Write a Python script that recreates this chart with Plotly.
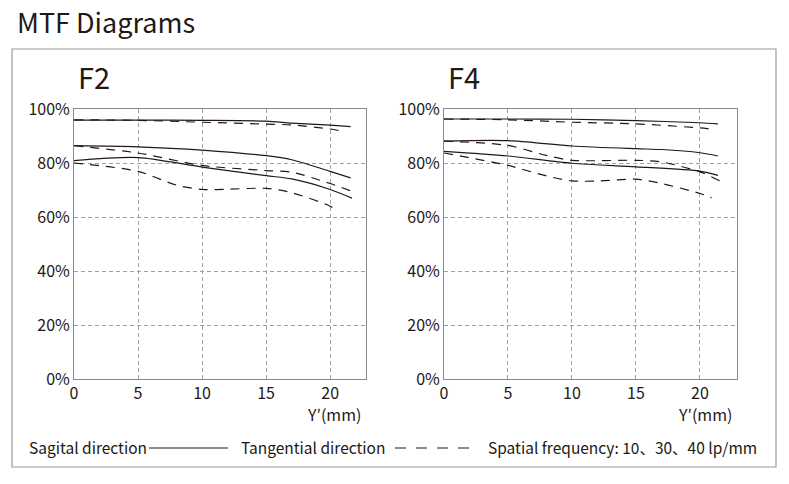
import plotly.graph_objects as go

# ---------------- data ----------------
f2_s10_x = [0, 5, 10, 15, 17, 20, 21.6]
f2_s10_y = [95.9, 95.9, 95.8, 95.5, 94.8, 94.0, 93.5]
f2_t10_x = [0, 5, 10, 15, 17, 20, 20.7]
f2_t10_y = [96.0, 95.8, 95.1, 94.4, 94.1, 92.6, 92.0]
f2_s30_x = [0, 5, 10, 15, 17, 20, 21.6]
f2_s30_y = [86.4, 86.0, 84.8, 82.7, 81.2, 76.9, 74.5]
f2_t30_x = [0, 5, 10, 15, 17, 20, 22]
f2_t30_y = [86.4, 83.7, 79.1, 77.2, 76.6, 72.4, 69.0]
f2_s40_x = [0, 5, 10, 15, 17, 20, 21.7]
f2_s40_y = [80.9, 82.0, 78.5, 75.3, 74.1, 70.2, 67.0]
f2_t40_x = [0, 5, 8, 10, 12, 15, 17, 20, 20.6]
f2_t40_y = [80.0, 76.9, 71.8, 70.2, 70.3, 70.6, 69.0, 64.0, 62.1]

f4_s10_x = [0, 5, 10, 15, 20, 21.4]
f4_s10_y = [96.3, 96.3, 96.2, 95.7, 94.9, 94.5]
f4_t10_x = [0, 5, 10, 15, 20, 20.8]
f4_t10_y = [96.3, 96.0, 95.1, 94.5, 93.0, 92.6]
f4_s30_x = [0, 5, 10, 15, 17, 20, 21.4]
f4_s30_y = [88.1, 88.3, 86.3, 85.3, 85.0, 83.8, 82.6]
f4_t30_x = [0, 5, 8, 10, 15, 17, 20, 21.6]
f4_t30_y = [88.1, 86.5, 82.8, 81.0, 81.0, 80.4, 76.7, 73.3]
f4_s40_x = [0, 5, 10, 15, 20, 21.4]
f4_s40_y = [84.3, 82.6, 79.9, 78.6, 77.0, 75.4]
f4_t40_x = [0, 5, 8, 10, 12, 15, 17, 20, 20.9]
f4_t40_y = [83.7, 79.1, 75.2, 73.4, 73.3, 74.0, 72.4, 68.7, 67.1]

x_ticks = [0, 5, 10, 15, 20]
x_tick_labels = ["0", "5", "10", "15", "20"]
y_ticks = [0, 20, 40, 60, 80, 100]
y_tick_labels = ["0%", "20%", "40%", "60%", "80%", "100%"]

panel_titles = ["F2", "F4"]
main_title = "MTF Diagrams"
x_title = "Y′(mm)"
legend_texts = ["Sagital direction", "Tangential direction", "Spatial frequency: 10、30、40 lp/mm"]

# ---------------- figure ----------------
W, H = 789, 484
FONT = "Noto Sans CJK JP"
INK = "#231815"
GRID = "#a0a0a0"
AX = "#8a8a8a"

fig = go.Figure()

panels = [
    ("x", "y", [(f2_s10_x, f2_s10_y, "solid"), (f2_t10_x, f2_t10_y, "dash"),
                (f2_s30_x, f2_s30_y, "solid"), (f2_t30_x, f2_t30_y, "dash"),
                (f2_s40_x, f2_s40_y, "solid"), (f2_t40_x, f2_t40_y, "dash")]),
    ("x2", "y2", [(f4_s10_x, f4_s10_y, "solid"), (f4_t10_x, f4_t10_y, "dash"),
                  (f4_s30_x, f4_s30_y, "solid"), (f4_t30_x, f4_t30_y, "dash"),
                  (f4_s40_x, f4_s40_y, "solid"), (f4_t40_x, f4_t40_y, "dash")]),
]
for xa, ya, series in panels:
    for xs, ys, d in series:
        fig.add_trace(go.Scatter(
            x=xs, y=ys, mode="lines", xaxis=xa, yaxis=ya, showlegend=False,
            line=dict(color=INK, width=1.2, shape="spline", smoothing=0.8,
                      dash="solid" if d == "solid" else "9px,7px"),
            hoverinfo="skip"))

y_dom = [1 - 379 / H, 1 - 109 / H]
x1_dom = [74 / W, 366 / W]
x2_dom = [444 / W, 736.7 / W]

axis_common = dict(showline=True, linecolor=AX, linewidth=1, mirror=True,
                   showgrid=True, gridcolor=GRID, griddash="4px,3px", gridwidth=1,
                   zeroline=False, ticks="", tickfont=dict(family=FONT, size=16, color=INK),
                   fixedrange=True, automargin=False)

fig.update_layout(
    width=W, height=H,
    margin=dict(l=0, r=0, t=0, b=0, autoexpand=False),
    paper_bgcolor="white", plot_bgcolor="white",
    xaxis=dict(domain=x1_dom, range=[0, 22.8], tickvals=x_ticks, ticktext=x_tick_labels,
               anchor="y", **axis_common),
    yaxis=dict(domain=y_dom, range=[0, 100], tickvals=y_ticks, ticktext=y_tick_labels,
               anchor="x", **axis_common),
    xaxis2=dict(domain=x2_dom, range=[0, 22.87], tickvals=x_ticks, ticktext=x_tick_labels,
                anchor="y2", **axis_common),
    yaxis2=dict(domain=y_dom, range=[0, 100], tickvals=y_ticks, ticktext=y_tick_labels,
                anchor="x2", **axis_common),
)

# outer frame
fig.add_shape(type="rect", xref="paper", yref="paper",
              x0=12 / W, x1=776 / W, y0=1 - 467 / H, y1=1 - 49 / H,
              line=dict(color="#9a9a9a", width=1.2), layer="below")

ann = []
ann.append(dict(text=main_title, x=15 / W, y=1 - 22 / H, xref="paper", yref="paper",
                xanchor="left", yanchor="middle", showarrow=False,
                font=dict(family=FONT, size=27, color=INK)))
for t, px in zip(panel_titles, [76, 446]):
    ann.append(dict(text=t, x=px / W, y=1 - 76 / H, xref="paper", yref="paper",
                    xanchor="left", yanchor="middle", showarrow=False,
                    font=dict(family=FONT, size=29, color=INK)))
for px in [363, 734]:
    ann.append(dict(text=x_title, x=px / W, y=1 - 414 / H, xref="paper", yref="paper",
                    xanchor="right", yanchor="middle", showarrow=False,
                    font=dict(family=FONT, size=16, color=INK)))
for t, px in zip(legend_texts, [27, 239, 486]):
    ann.append(dict(text=t, x=px / W, y=1 - 447 / H, xref="paper", yref="paper",
                    xanchor="left", yanchor="middle", showarrow=False,
                    font=dict(family=FONT, size=15.5, color=INK)))
fig.update_layout(annotations=ann)

# legend sample lines
fig.add_shape(type="line", xref="paper", yref="paper", x0=149 / W, x1=228 / W,
              y0=1 - 448 / H, y1=1 - 448 / H, line=dict(color=INK, width=1.2))
fig.add_shape(type="line", xref="paper", yref="paper", x0=395 / W, x1=476 / W,
              y0=1 - 448 / H, y1=1 - 448 / H, line=dict(color=INK, width=1.2, dash="11px,10px"))

fig.write_html("out.html", config={"displayModeBar": False},
               post_script="document.body.style.margin='0';document.body.style.overflow='hidden';")
